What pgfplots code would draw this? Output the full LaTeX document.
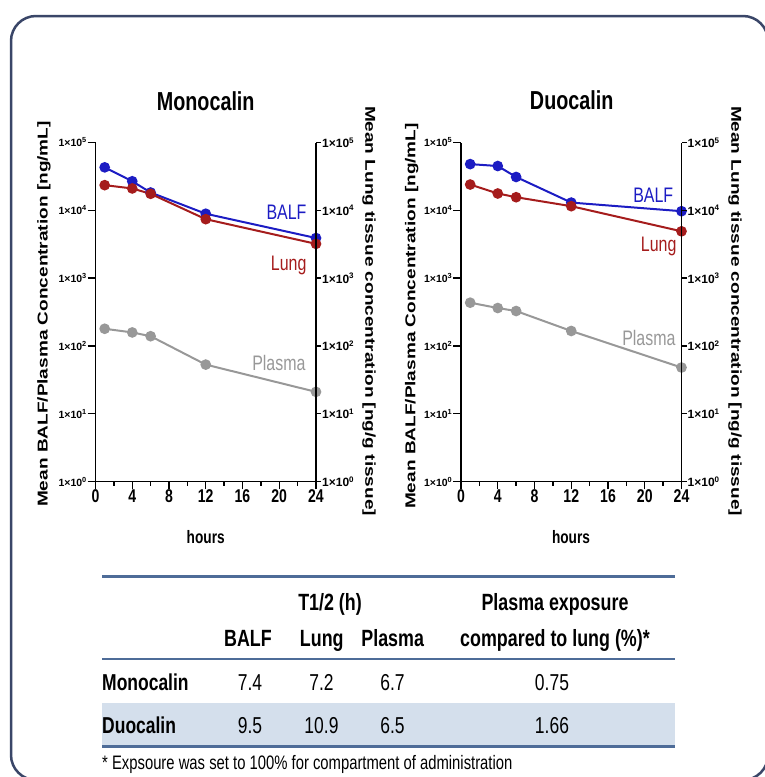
\documentclass[border=0pt]{standalone}
\usepackage{pgfplots}
\pgfplotsset{compat=1.18}
\usepackage{fontspec}
\setmainfont{Liberation Sans}[FakeStretch=0.76]
\newfontfamily\rotfont{Liberation Sans}[FakeStretch=1.33]
\newfontfamily\plainfont{Liberation Sans}
\newcommand{\fs}[1]{\fontsize{#1}{#1}\selectfont}
\newcommand{\tl}[1]{1×10\textsuperscript{#1}}
\definecolor{balf}{RGB}{28,28,195}
\definecolor{lung}{RGB}{165,28,28}
\definecolor{plasma}{RGB}{152,152,152}
\definecolor{framec}{RGB}{58,70,104}
\definecolor{tline}{RGB}{78,108,152}
\definecolor{band}{RGB}{212,223,236}
\begin{document}
\begin{tikzpicture}
\useasboundingbox (0pt,0pt) rectangle (764pt,-777pt);
\draw[framec, line width=2.5pt, rounded corners=25pt] (11pt,-16pt) rectangle (768pt,-780pt);

% ---------- Monocalin ----------
\begin{axis}[at={(95.5pt,-481.5pt)}, anchor=south west,
    scale only axis, width=220.5pt, height=339pt,
    xmin=0, xmax=24, ymin=1, ymax=100000, ymode=log,
    axis x line*=bottom, axis y line*=left,
    axis line style={-,line width=1.4pt},
    xtick={0,4,8,12,16,20,24}, xticklabels={0,4,8,12,16,20,24},
    minor xtick={2,6,10,14,18,22},
    ytick={1,10,100,1000,10000,100000},
    yticklabels={\tl{0},\tl{1},\tl{2},\tl{3},\tl{4},\tl{5}},
    yminorticks=false,
    tick align=outside, major tick length=8pt, minor tick length=4pt,
    tick style={black, line width=1.4pt},
    xticklabel style={font=\bfseries\fs{18.5}, inner sep=0pt},
    yticklabel style={font=\plainfont\bfseries\fs{10.5}, inner sep=0.5pt},
    clip=false]
\addplot[line width=2pt, color=balf, mark=*, mark size=4.3pt, mark options={solid,fill=balf}] coordinates {(1,43000) (4,26800) (6,18300) (12,8900) (24,3900)};
\addplot[line width=2pt, color=lung, mark=*, mark size=4.3pt, mark options={solid,fill=lung}] coordinates {(1,23500) (4,21000) (6,17500) (12,7400) (24,3200)};
\addplot[line width=2pt, color=plasma, mark=*, mark size=4.3pt, mark options={solid,fill=plasma}] coordinates {(1,179) (4,158) (6,139) (12,53) (24,21)};
\end{axis}
\begin{axis}[at={(95.5pt,-481.5pt)}, anchor=south west,
    scale only axis, width=220.5pt, height=339pt,
    xmin=0, xmax=24, ymin=1, ymax=100000, ymode=log,
    axis x line=none, axis y line*=right,
    axis line style={-,line width=1.4pt},
    ytick={1,10,100,1000,10000,100000},
    yticklabels={\tl{0},\tl{1},\tl{2},\tl{3},\tl{4},\tl{5}},
    yminorticks=false,
    tick align=outside, major tick length=5pt,
    tick style={black, line width=1.4pt},
    yticklabel style={font=\plainfont\bfseries\fs{12}, inner sep=1pt}]
\addplot[draw=none] coordinates {(0,1)};
\end{axis}
\node[anchor=base, font=\bfseries\fs{26}] at (205.7pt,-110pt) {Monocalin};
\node[anchor=base, font=\bfseries\fs{18}] at (205.7pt,-543.3pt) {hours};
\node[rotate=90, font=\rotfont\bfseries\fs{14.3}] at (44pt,-314pt) {Mean BALF/Plasma Concentration [ng/mL]};
\node[rotate=-90, font=\rotfont\bfseries\fs{14.3}] at (369pt,-311pt) {Mean Lung tissue concentration [ng/g tissue]};
\node[anchor=base east, text=balf, font=\fs{21}] at (310pt,-219.5pt) {BALF};
\node[anchor=base east, text=lung, font=\fs{21}] at (310pt,-270.7pt) {Lung};
\node[anchor=base east, text=plasma, font=\fs{21}] at (309pt,-370pt) {Plasma};

% ---------- Duocalin ----------
\begin{axis}[at={(461pt,-481.5pt)}, anchor=south west,
    scale only axis, width=220.5pt, height=339pt,
    xmin=0, xmax=24, ymin=1, ymax=100000, ymode=log,
    axis x line*=bottom, axis y line*=left,
    axis line style={-,line width=1.4pt},
    xtick={0,4,8,12,16,20,24}, xticklabels={0,4,8,12,16,20,24},
    minor xtick={2,6,10,14,18,22},
    ytick={1,10,100,1000,10000,100000},
    yticklabels={\tl{0},\tl{1},\tl{2},\tl{3},\tl{4},\tl{5}},
    yminorticks=false,
    tick align=outside, major tick length=8pt, minor tick length=4pt,
    tick style={black, line width=1.4pt},
    xticklabel style={font=\bfseries\fs{18.5}, inner sep=0pt},
    yticklabel style={font=\plainfont\bfseries\fs{10.5}, inner sep=0.5pt},
    clip=false]
\addplot[line width=2pt, color=balf, mark=*, mark size=4.3pt, mark options={solid,fill=balf}] coordinates {(1,48000) (4,45000) (6,31000) (12,13000) (24,9700)};
\addplot[line width=2pt, color=lung, mark=*, mark size=4.3pt, mark options={solid,fill=lung}] coordinates {(1,24000) (4,17700) (6,15600) (12,11500) (24,4900)};
\addplot[line width=2pt, color=plasma, mark=*, mark size=4.3pt, mark options={solid,fill=plasma}] coordinates {(1,434) (4,362) (6,327) (12,166) (24,48)};
\end{axis}
\begin{axis}[at={(461pt,-481.5pt)}, anchor=south west,
    scale only axis, width=220.5pt, height=339pt,
    xmin=0, xmax=24, ymin=1, ymax=100000, ymode=log,
    axis x line=none, axis y line*=right,
    axis line style={-,line width=1.4pt},
    ytick={1,10,100,1000,10000,100000},
    yticklabels={\tl{0},\tl{1},\tl{2},\tl{3},\tl{4},\tl{5}},
    yminorticks=false,
    tick align=outside, major tick length=5pt,
    tick style={black, line width=1.4pt},
    yticklabel style={font=\plainfont\bfseries\fs{12}, inner sep=1pt}]
\addplot[draw=none] coordinates {(0,1)};
\end{axis}
\node[anchor=base, font=\bfseries\fs{26}] at (571.7pt,-109.3pt) {Duocalin};
\node[anchor=base, font=\bfseries\fs{18}] at (571pt,-543.3pt) {hours};
\node[rotate=90, font=\rotfont\bfseries\fs{14.3}] at (411.7pt,-316pt) {Mean BALF/Plasma Concentration [ng/mL]};
\node[rotate=-90, font=\rotfont\bfseries\fs{14.3}] at (735pt,-311pt) {Mean Lung tissue concentration [ng/g tissue]};
\node[anchor=base east, text=balf, font=\fs{21}] at (676.7pt,-202.3pt) {BALF};
\node[anchor=base east, text=lung, font=\fs{21}] at (680pt,-251.7pt) {Lung};
\node[anchor=base east, text=plasma, font=\fs{21}] at (679pt,-345.7pt) {Plasma};

% ---------- Table ----------
\fill[band] (102pt,-703pt) rectangle (675pt,-745pt);
\draw[tline, line width=3pt] (102pt,-576pt) -- (675pt,-576pt);
\draw[tline, line width=2.5pt] (102pt,-659pt) -- (675pt,-659pt);
\draw[tline, line width=3pt] (102pt,-746pt) -- (675pt,-746pt);
\begin{scope}[every node/.style={inner sep=0pt}]
\node[anchor=base, font=\bfseries\fs{23.5}] at (330pt,-610pt) {T1/2 (h)};
\node[anchor=base, font=\bfseries\fs{23.5}] at (555pt,-610pt) {Plasma exposure};
\node[anchor=base, font=\bfseries\fs{23.5}] at (248pt,-646.5pt) {BALF};
\node[anchor=base, font=\bfseries\fs{23.5}] at (321.8pt,-646.5pt) {Lung};
\node[anchor=base, font=\bfseries\fs{23.5}] at (392.7pt,-646.5pt) {Plasma};
\node[anchor=base, font=\bfseries\fs{23.5}] at (555pt,-646.5pt) {compared to lung (\%)*};
\node[anchor=base west, font=\bfseries\fs{23}] at (102pt,-690pt) {Monocalin};
\node[anchor=base west, font=\bfseries\fs{23}] at (102pt,-733.3pt) {Duocalin};
\node[anchor=base, font=\fs{23}] at (250pt,-690pt) {7.4};
\node[anchor=base, font=\fs{23}] at (321.5pt,-690pt) {7.2};
\node[anchor=base, font=\fs{23}] at (392.5pt,-690pt) {6.7};
\node[anchor=base, font=\fs{23}] at (552pt,-690pt) {0.75};
\node[anchor=base, font=\fs{23}] at (250pt,-733.3pt) {9.5};
\node[anchor=base, font=\fs{23}] at (321.5pt,-733.3pt) {10.9};
\node[anchor=base, font=\fs{23}] at (392.5pt,-733.3pt) {6.5};
\node[anchor=base, font=\fs{23}] at (552pt,-733.3pt) {1.66};
\node[anchor=base west, font=\fs{19.5}] at (102pt,-769.3pt) {* Expsoure was set to 100\% for compartment of administration};
\end{scope}
\end{tikzpicture}
\end{document}
